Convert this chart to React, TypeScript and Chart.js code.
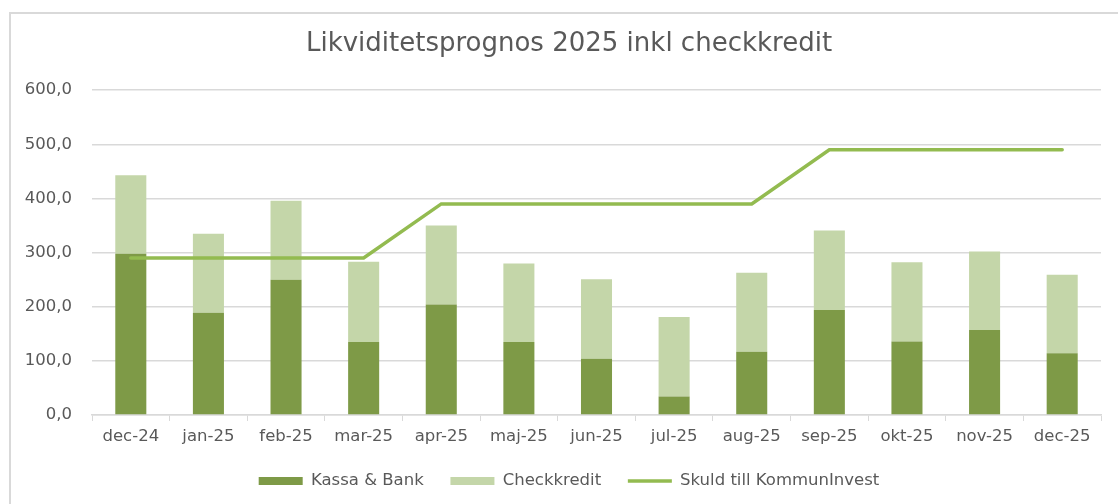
import React, { useEffect, useRef } from "react";
import { Chart, registerables } from "chart.js";

Chart.register(...registerables);

const categories = ["dec-24", "jan-25", "feb-25", "mar-25", "apr-25", "maj-25", "jun-25", "jul-25", "aug-25", "sep-25", "okt-25", "nov-25", "dec-25"];
const kassaBank = [298, 189, 250, 135, 204, 135, 104, 34, 117, 194, 136, 157, 114];
const checkkredit = [145, 146, 146, 148, 146, 145, 147, 147, 146, 147, 146, 145, 145];
const skuld = [290, 290, 290, 290, 390, 390, 390, 390, 390, 490, 490, 490, 490];
const yTicks = [0, 100, 200, 300, 400, 500, 600];

const FONT = "'DejaVu Sans'";
const TEXT = "#595959";

const borderPlugin = {
  id: "frame",
  beforeDraw(chart: any) {
    const ctx = chart.ctx;
    ctx.save();
    ctx.fillStyle = "#ffffff";
    ctx.fillRect(0, 0, chart.width, chart.height);
    ctx.strokeStyle = "#d9d9d9";
    ctx.lineWidth = 2;
    ctx.beginPath();
    ctx.moveTo(10, chart.height);
    ctx.lineTo(10, 13);
    ctx.lineTo(chart.width, 13);
    ctx.stroke();
    ctx.restore();
  },
};

export default function App() {
  const ref = useRef<HTMLCanvasElement>(null);
  useEffect(() => {
    if (!ref.current) return;
    const chart = new Chart(ref.current, {
      type: "bar",
      data: {
        labels: categories,
        datasets: [
          {
            type: "line",
            label: "Skuld till KommunInvest",
            data: skuld,
            borderColor: "#93BB50",
            backgroundColor: "#93BB50",
            borderWidth: 3.5,
            pointRadius: 0,
            tension: 0,
            borderCapStyle: "round",
            order: 0,
          } as any,
          {
            label: "Kassa & Bank",
            data: kassaBank,
            backgroundColor: "#7E9A47",
            stack: "s",
            order: 1,
            categoryPercentage: 1,
            barPercentage: 0.4,
          },
          {
            label: "Checkkredit",
            data: checkkredit,
            backgroundColor: "#C4D6A9",
            stack: "s",
            order: 1,
            categoryPercentage: 1,
            barPercentage: 0.4,
          },
        ],
      },
      plugins: [borderPlugin],
      options: {
        animation: false,
        responsive: false,
        layout: { padding: { left: 20, right: 0, top: 0, bottom: 4.75 } },
        plugins: {
          title: {
            display: true,
            text: "Likviditetsprognos 2025 inkl checkkredit",
            color: TEXT,
            font: { family: FONT, size: 26, weight: "normal" },
            padding: { top: 29, bottom: 30 },
          },
          legend: {
            position: "bottom",
            labels: {
              color: TEXT,
              font: { family: FONT, size: 16.5 },
              usePointStyle: true,
              pointStyleWidth: 44,
              boxHeight: 8,
              padding: 26.75,
              sort: (a: any, b: any) => {
                const ord = ["Kassa & Bank", "Checkkredit", "Skuld till KommunInvest"];
                return ord.indexOf(a.text) - ord.indexOf(b.text);
              },
              generateLabels: (chart: any) => {
                const items = Chart.defaults.plugins.legend.labels.generateLabels(chart);
                return items.map((it: any) => {
                  const ds = chart.data.datasets[it.datasetIndex];
                  if (ds.type === "line") {
                    return { ...it, pointStyle: "line", lineWidth: 3.5, strokeStyle: ds.borderColor };
                  }
                  return { ...it, pointStyle: "rect", lineWidth: 0, strokeStyle: ds.backgroundColor };
                });
              },
            },
          },
          tooltip: { enabled: false },
        },
        scales: {
          x: {
            stacked: true,
            afterFit: (s: any) => { s.height = 31; },
            grid: {
              offset: true,
              drawOnChartArea: false,
              drawTicks: true,
              tickLength: 6,
              color: "#d9d9d9",
            },
            border: { color: "#d9d9d9", width: 1.5 },
            ticks: { color: TEXT, font: { family: FONT, size: 16.5, lineHeight: 1 }, padding: 7 },
          },
          y: {
            stacked: true,
            min: 0,
            max: 600,
            afterFit: (s: any) => { s.width = 72; },
            afterBuildTicks: (s: any) => { s.ticks = yTicks.map((v) => ({ value: v })); },
            grid: { color: "#d9d9d9", lineWidth: 1.5, drawTicks: false },
            border: { display: false },
            ticks: {
              color: TEXT,
              font: { family: FONT, size: 16.5 },
              padding: 20,
              callback: (v: any) => Number(v).toFixed(1).replace(".", ","),
            },
          },
          yPad: {
            type: "linear",
            position: "right",
            afterFit: (s: any) => { s.width = 17; },
            grid: { display: false, drawTicks: false },
            border: { display: false },
            ticks: { display: false },
          },
        },
      },
    });
    return () => chart.destroy();
  }, []);
  return (
    <div style={{ position: "absolute", left: 0, top: 0, width: 1118, height: 504 }}>
      <canvas ref={ref} width={1118} height={504} style={{ display: "block" }} />
    </div>
  );
}
